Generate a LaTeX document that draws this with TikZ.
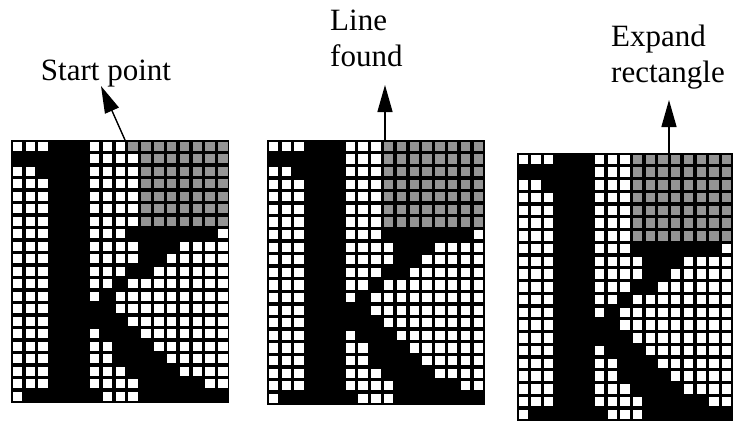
\documentclass[tikz,border=0pt]{standalone}
\usepackage{fontspec}
\setmainfont{Liberation Serif}
\usetikzlibrary{arrows.meta,positioning}

\begin{document}
\begin{tikzpicture}[
    x=1pt,
    y=-1pt,
    lbl/.style={font=\fontsize{31}{36}\selectfont, inner sep=0pt, align=left},
    arrow/.style={-{Triangle[length=27pt, width=15pt]}, line width=1.4pt},
    cellw/.style={fill=white},
    cellg/.style={fill=black!42}
  ]
    \useasboundingbox (0,0) rectangle (736,429);

    % -- three pixel grids of the letter k --
    \foreach \gx/\gy/\gw/\gh/\gg in {11/140/12.85/12.5/10, 267/140/12.8/12.6/9, 517/153/12.7/12.75/9} {
      \fill[black] (\gx,\gy) rectangle ++(17*\gw, 21*\gh);
      \foreach \r/\cols in {0/{0,1,2,6,7,8}, 1/{6,7,8,9}, 2/{0,1,6,7,8,9},
          3/{0,1,2,6,7,8,9}, 4/{0,1,2,6,7,8,9}, 5/{0,1,2,6,7,8,9}, 6/{0,1,2,6,7,8,9},
          7/{0,1,2,6,7,8,16}, 8/{0,1,2,6,7,8,9,13,14,15,16},
          9/{0,1,2,6,7,8,9,12,13,14,15,16}, 10/{0,1,2,6,7,8,11,12,13,14,15,16},
          11/{0,1,2,6,7,9,10,11,12,13,14,15,16}, 12/{0,1,2,6,8,9,10,11,12,13,14,15,16},
          13/{0,1,2,8,9,10,11,12,13,14,15,16}, 14/{0,1,2,9,10,11,12,13,14,15,16},
          15/{0,1,2,6,10,11,12,13,14,15,16}, 16/{0,1,2,6,7,11,12,13,14,15,16},
          17/{0,1,2,6,7,12,13,14,15,16}, 18/{0,1,2,6,7,8,13,14,15,16},
          19/{0,1,2,6,7,8,9,15,16}, 20/{0,7,8,9}} {
        \foreach \c in \cols
          \fill[cellw] (\gx+\c*\gw+1.7, \gy+\r*\gh+1.7) rectangle ++(\gw-3.4, \gh-3.4);
      }
      % -- shaded rectangle --
      \foreach \c in {9,...,16}
        \fill[cellg] (\gx+\c*\gw+1.7, \gy+1.7) rectangle ++(\gw-3.4, \gh-3.4);
      \foreach \r in {1,...,6}
        \foreach \c in {\gg,...,16}
          \fill[cellg] (\gx+\c*\gw+1.7, \gy+\r*\gh+1.7) rectangle ++(\gw-3.4, \gh-3.4);
    }

    % -- labels --
    \node[lbl, anchor=base] (start) at (106,80) {Start point};
    \node[lbl, anchor=south west] (found) at (330,67) {Line\\found};
    \node[lbl, anchor=south west] (expand) at (611,89) {Expand\\rectangle};

    % -- arrows --
    \coordinate (tail1) at (125,140);
    \coordinate (tail2) at (385,140);
    \coordinate (tail3) at (669,153);
    \draw[arrow] (tail1) -- ([xshift=-5pt, yshift=-6pt]start.base);
    \draw[arrow] (tail2) -- ([yshift=-18pt]tail2 |- found.south);
    \draw[arrow] (tail3) -- ([yshift=-11pt]tail3 |- expand.south);
\end{tikzpicture}
\end{document}
